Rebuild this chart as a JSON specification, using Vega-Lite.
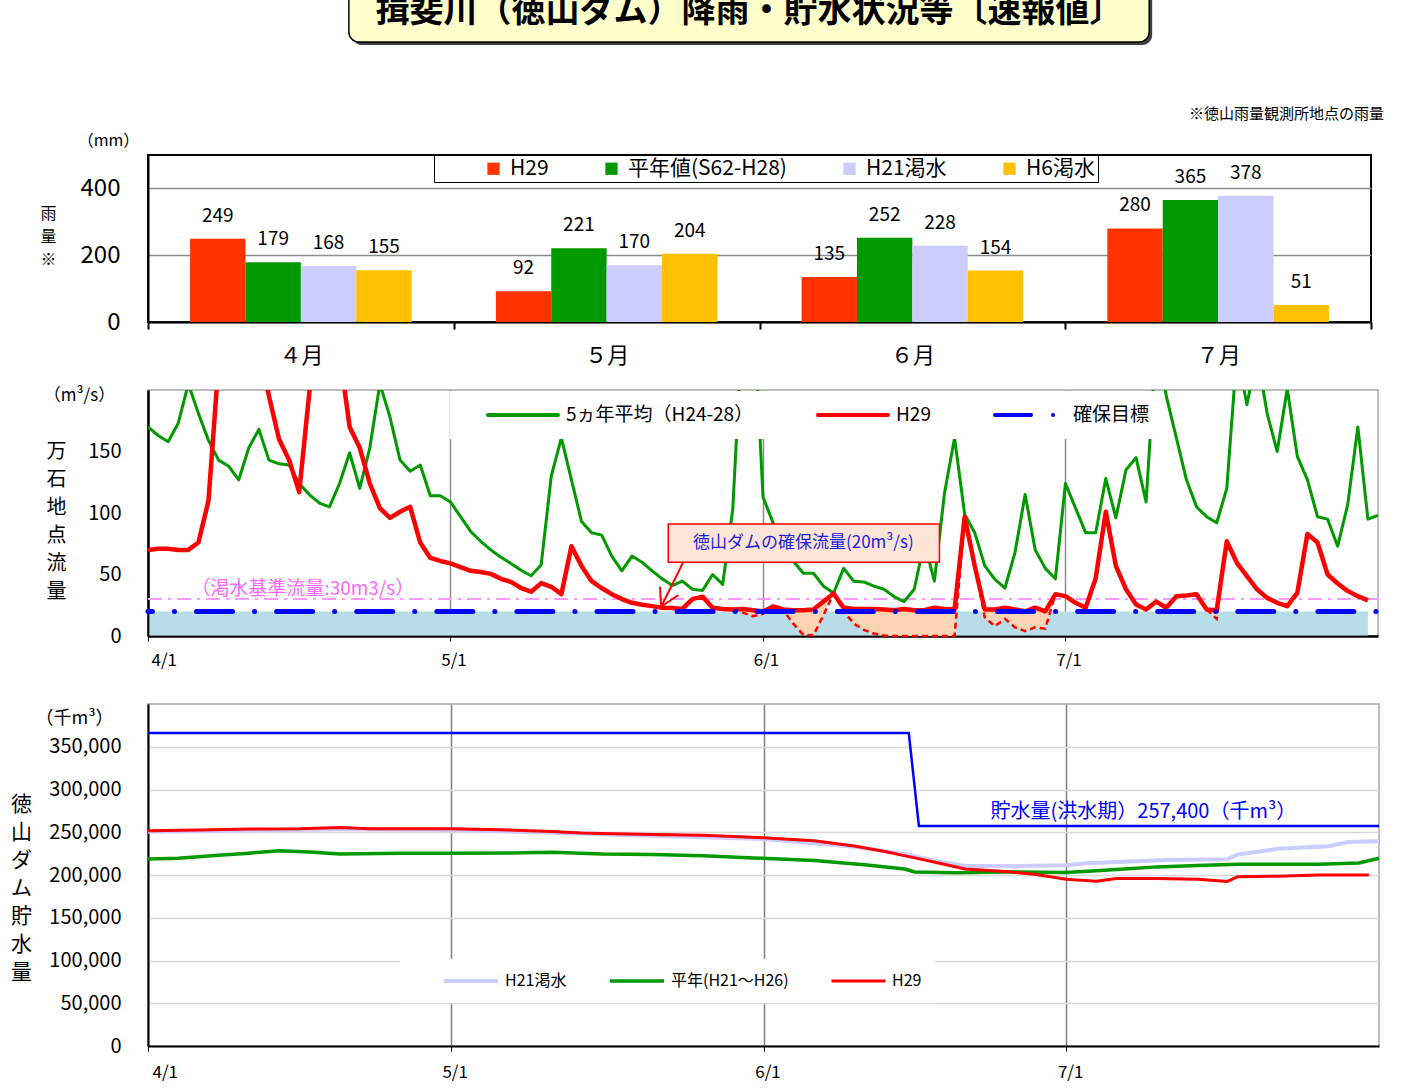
{
  "$schema": "https://vega.github.io/schema/vega-lite/v6.json",
  "padding": {"left": 9, "top": 0, "right": 0, "bottom": 0},
  "background": "white",
  "bounds": "flush",
  "spacing": 68,
  "resolve": {
    "scale": {"x": "independent", "y": "independent", "color": "independent", "strokeWidth": "independent"},
    "legend": {"color": "independent"}
  },
  "config": {
    "font": "Noto Sans CJK JP",
    "axis": {"labelColor": "black", "titleColor": "black", "labelFont": "Noto Sans CJK JP", "titleFont": "Noto Sans CJK JP", "titleFontWeight": "normal"},
    "legend": {"labelFont": "Noto Sans CJK JP", "labelColor": "black", "labelLimit": 400},
    "title": {"font": "Noto Sans CJK JP", "fontWeight": "normal", "color": "black"}
  },
  "datasets": {
    "rain": [
      {"month": "４月", "series": "H29", "v": 249}, {"month": "４月", "series": "平年値(S62-H28)", "v": 179}, {"month": "４月", "series": "H21渇水", "v": 168}, {"month": "４月", "series": "H6渇水", "v": 155},
      {"month": "５月", "series": "H29", "v": 92}, {"month": "５月", "series": "平年値(S62-H28)", "v": 221}, {"month": "５月", "series": "H21渇水", "v": 170}, {"month": "５月", "series": "H6渇水", "v": 204},
      {"month": "６月", "series": "H29", "v": 135}, {"month": "６月", "series": "平年値(S62-H28)", "v": 252}, {"month": "６月", "series": "H21渇水", "v": 228}, {"month": "６月", "series": "H6渇水", "v": 154},
      {"month": "７月", "series": "H29", "v": 280}, {"month": "７月", "series": "平年値(S62-H28)", "v": 365}, {"month": "７月", "series": "H21渇水", "v": 378}, {"month": "７月", "series": "H6渇水", "v": 51}
    ],
    "flow": [
      {"d":0,"g":170,"r":70},{"d":1,"g":163,"r":71},{"d":2,"g":158,"r":71},{"d":3,"g":173,"r":70},{"d":4,"g":205,"r":70},
      {"d":5,"g":181,"r":76},{"d":6,"g":159,"r":110},{"d":7,"g":143,"r":222},{"d":8,"g":138,"r":270},{"d":9,"g":127,"r":300},
      {"d":10,"g":153,"r":280},{"d":11,"g":168,"r":235},{"d":12,"g":143,"r":195},{"d":13,"g":140,"r":160},{"d":14,"g":139,"r":143},
      {"d":15,"g":124,"r":117},{"d":16,"g":115,"r":198},{"d":17,"g":108,"r":300},{"d":18,"g":105,"r":320},{"d":19,"g":124,"r":230},
      {"d":20,"g":149,"r":170},{"d":21,"g":120,"r":153},{"d":22,"g":153,"r":124},{"d":23,"g":205,"r":104},{"d":24,"g":178,"r":96},
      {"d":25,"g":143,"r":101},{"d":26,"g":134,"r":105},{"d":27,"g":139,"r":76},{"d":28,"g":114,"r":63.5},{"d":29,"g":114,"r":61},
      {"d":30,"g":109,"r":59},{"d":31,"g":97,"r":56},{"d":32,"g":85,"r":53},{"d":33,"g":77,"r":52},{"d":34,"g":70,"r":50.5},
      {"d":35,"g":64,"r":46.5},{"d":36,"g":59,"r":44},{"d":37,"g":53.5,"r":39},{"d":38,"g":49,"r":36},{"d":39,"g":58,"r":43},
      {"d":40,"g":130,"r":40},{"d":41,"g":161,"r":34},{"d":42,"g":127,"r":73},{"d":43,"g":93,"r":57},{"d":44,"g":84,"r":44.6},
      {"d":45,"g":82,"r":39},{"d":46,"g":65,"r":34},{"d":47,"g":53,"r":30},{"d":48,"g":65,"r":27},{"d":49,"g":60,"r":25.4},
      {"d":50,"g":53,"r":24.3},{"d":51,"g":46.5,"r":23},{"d":52,"g":41,"r":22.7},{"d":53,"g":44.6,"r":22},{"d":54,"g":38,"r":30},
      {"d":55,"g":37,"r":32},{"d":56,"g":50,"r":23,"n":23},{"d":57,"g":42,"r":22,"n":22},{"d":58,"g":103,"r":21.6,"n":21.6},{"d":59,"g":260,"r":22,"n":19},
      {"d":60,"g":280,"r":21,"n":16},{"d":61,"g":113,"r":20,"n":18},{"d":62,"g":92,"r":24,"n":23},{"d":63,"g":73,"r":21.6,"n":21},{"d":64,"g":61,"r":21,"n":10},
      {"d":65,"g":51,"r":21,"n":1},{"d":66,"g":51,"r":21.6,"n":0.5},{"d":67,"g":40.5,"r":28,"n":17},{"d":68,"g":35,"r":34.6,"n":34.6},{"d":69,"g":55,"r":23,"n":20},
      {"d":70,"g":44.6,"r":22,"n":10},{"d":71,"g":44,"r":22,"n":5},{"d":72,"g":40.5,"r":22,"n":2},{"d":73,"g":38,"r":21.5,"n":0.5},{"d":74,"g":32,"r":21,"n":0},
      {"d":75,"g":28,"r":22,"n":0},{"d":76,"g":38,"r":21,"n":0},{"d":77,"g":76,"r":21,"n":0},{"d":78,"g":44.6,"r":23,"n":0},{"d":79,"g":116,"r":22,"n":0},
      {"d":80,"g":161,"r":21.6,"n":0},{"d":81,"g":99,"r":97,"n":97},{"d":82,"g":84,"r":57,"n":57},{"d":83,"g":57,"r":21.6,"n":15},{"d":84,"g":46,"r":21.6,"n":8},
      {"d":85,"g":39,"r":23,"n":14},{"d":86,"g":68,"r":21.6,"n":7},{"d":87,"g":115,"r":20,"n":4},{"d":88,"g":70,"r":23,"n":7},{"d":89,"g":55,"r":20,"n":6},
      {"d":90,"g":46.5,"r":34,"n":34},{"d":91,"g":124,"r":32.4},{"d":92,"g":104,"r":27},{"d":93,"g":84,"r":23},{"d":94,"g":84,"r":47},
      {"d":95,"g":128,"r":101},{"d":96,"g":96,"r":57},{"d":97,"g":135,"r":38},{"d":98,"g":145,"r":25.7},{"d":99,"g":109,"r":21.6},
      {"d":100,"g":240,"r":28},{"d":101,"g":195,"r":23},{"d":102,"g":161,"r":32.4},{"d":103,"g":127,"r":33},{"d":104,"g":105,"r":34},
      {"d":105,"g":97,"r":21.6,"n":21.6},{"d":106,"g":92,"r":21,"n":14},{"d":107,"g":120,"r":77,"n":77},{"d":108,"g":230,"r":59.5},{"d":109,"g":188,"r":48.6},
      {"d":110,"g":230,"r":38},{"d":111,"g":181,"r":31},{"d":112,"g":150,"r":27},{"d":113,"g":201,"r":24.3},{"d":114,"g":146,"r":35},
      {"d":115,"g":127,"r":83},{"d":116,"g":97,"r":76},{"d":117,"g":95,"r":50},{"d":118,"g":73,"r":42.7},{"d":119,"g":107,"r":36.5},
      {"d":120,"g":170,"r":32.4},{"d":121,"g":95,"r":29},{"d":122,"g":98}
    ],
    "store": [
      {"s":"H21渇水","d":0,"v":250500},{"s":"H21渇水","d":10,"v":252000},{"s":"H21渇水","d":19,"v":253500},{"s":"H21渇水","d":30,"v":252500},
      {"s":"H21渇水","d":40,"v":249500},{"s":"H21渇水","d":50,"v":246000},{"s":"H21渇水","d":61,"v":242000},{"s":"H21渇水","d":70,"v":233000},
      {"s":"H21渇水","d":75,"v":224500},{"s":"H21渇水","d":78,"v":216500},{"s":"H21渇水","d":81,"v":210500},{"s":"H21渇水","d":86,"v":210500},
      {"s":"H21渇水","d":91,"v":211500},{"s":"H21渇水","d":93,"v":213800},{"s":"H21渇水","d":101,"v":217500},{"s":"H21渇水","d":107,"v":218500},
      {"s":"H21渇水","d":108,"v":224000},{"s":"H21渇水","d":112,"v":230600},{"s":"H21渇水","d":117,"v":233700},{"s":"H21渇水","d":119,"v":238500},
      {"s":"H21渇水","d":122,"v":239500},
      {"s":"平年(H21～H26)","d":0,"v":218600},{"s":"平年(H21～H26)","d":3,"v":219500},{"s":"平年(H21～H26)","d":7,"v":223000},{"s":"平年(H21～H26)","d":10,"v":225500},
      {"s":"平年(H21～H26)","d":13,"v":228500},{"s":"平年(H21～H26)","d":16,"v":227000},{"s":"平年(H21～H26)","d":19,"v":224500},{"s":"平年(H21～H26)","d":25,"v":225500},
      {"s":"平年(H21～H26)","d":30,"v":225500},{"s":"平年(H21～H26)","d":36,"v":225800},{"s":"平年(H21～H26)","d":40,"v":226500},{"s":"平年(H21～H26)","d":45,"v":224500},
      {"s":"平年(H21～H26)","d":50,"v":224000},{"s":"平年(H21～H26)","d":55,"v":222500},{"s":"平年(H21～H26)","d":60,"v":220000},{"s":"平年(H21～H26)","d":66,"v":217000},
      {"s":"平年(H21～H26)","d":71,"v":212000},{"s":"平年(H21～H26)","d":75,"v":207000},{"s":"平年(H21～H26)","d":76,"v":203500},{"s":"平年(H21～H26)","d":80,"v":202500},
      {"s":"平年(H21～H26)","d":85,"v":203500},{"s":"平年(H21～H26)","d":91,"v":203000},{"s":"平年(H21～H26)","d":94,"v":205000},{"s":"平年(H21～H26)","d":96,"v":206500},
      {"s":"平年(H21～H26)","d":100,"v":209500},{"s":"平年(H21～H26)","d":104,"v":211000},{"s":"平年(H21～H26)","d":108,"v":212500},{"s":"平年(H21～H26)","d":113,"v":212500},
      {"s":"平年(H21～H26)","d":116,"v":212700},{"s":"平年(H21～H26)","d":120,"v":214000},{"s":"平年(H21～H26)","d":122,"v":219500},
      {"s":"H29","d":0,"v":251700},{"s":"H29","d":5,"v":252500},{"s":"H29","d":10,"v":253800},{"s":"H29","d":15,"v":254000},
      {"s":"H29","d":19,"v":255500},{"s":"H29","d":22,"v":254200},{"s":"H29","d":27,"v":254000},{"s":"H29","d":30,"v":254000},
      {"s":"H29","d":35,"v":253000},{"s":"H29","d":40,"v":251000},{"s":"H29","d":43,"v":249000},{"s":"H29","d":45,"v":248500},
      {"s":"H29","d":50,"v":247500},{"s":"H29","d":55,"v":246500},{"s":"H29","d":61,"v":243500},{"s":"H29","d":66,"v":240000},
      {"s":"H29","d":70,"v":234000},{"s":"H29","d":73,"v":227500},{"s":"H29","d":76,"v":220000},{"s":"H29","d":78,"v":215000},
      {"s":"H29","d":81,"v":207000},{"s":"H29","d":85,"v":204000},{"s":"H29","d":88,"v":200500},{"s":"H29","d":91,"v":195000},
      {"s":"H29","d":94,"v":192800},{"s":"H29","d":96,"v":196000},{"s":"H29","d":100,"v":196000},{"s":"H29","d":104,"v":195000},
      {"s":"H29","d":107,"v":192500},{"s":"H29","d":108,"v":198000},{"s":"H29","d":112,"v":198500},{"s":"H29","d":116,"v":200000},
      {"s":"H29","d":121,"v":200000}
    ],
    "flood": [
      {"d":0,"v":366000},{"d":75.4,"v":366000},{"d":76.4,"v":257400},{"d":122,"v":257400}
    ],
    "one": [{"k": 1}]
  },
  "vconcat": [
    {
      "width": 1230,
      "height": 87,
      "view": {"stroke": null},
      "data": {"name": "one"},
      "layer": [
        {
          "mark": {"type": "rect", "fill": "#404040", "cornerRadius": 10, "clip": true},
          "encoding": {
            "x": {"datum": 0.1657, "type": "quantitative", "scale": {"domain": [0, 1], "nice": false, "zero": false}, "axis": null},
            "x2": {"datum": 0.8164},
            "y": {"datum": 0.483, "type": "quantitative", "scale": {"domain": [0, 1], "nice": false, "zero": false}, "axis": null},
            "y2": {"datum": 1.3}
          }
        },
        {
          "mark": {"type": "rect", "fill": "#FFFFCC", "stroke": "black", "strokeWidth": 1.5, "cornerRadius": 10, "clip": true},
          "encoding": {
            "x": {"datum": 0.1633, "type": "quantitative"},
            "x2": {"datum": 0.814},
            "y": {"datum": 0.517, "type": "quantitative"},
            "y2": {"datum": 1.3}
          }
        },
        {
          "mark": {"type": "text", "fontSize": 34, "fontWeight": "bold", "align": "center", "baseline": "middle", "clip": true, "color": "black"},
          "encoding": {
            "x": {"datum": 0.489, "type": "quantitative"},
            "y": {"datum": 0.86, "type": "quantitative"},
            "text": {"value": "揖斐川（徳山ダム）降雨・貯水状況等〔速報値〕"}
          }
        }
      ]
    },
    {
      "width": 1223,
      "height": 167,
      "view": {"stroke": "black", "strokeWidth": 2},
      "title": {"text": "※徳山雨量観測所地点の雨量", "anchor": "end", "frame": "group", "fontSize": 15, "offset": 3, "baseline": "middle", "dx": 13},
      "data": {"name": "rain"},
      "encoding": {
        "x": {
          "field": "month", "type": "nominal", "sort": ["４月", "５月", "６月", "７月"],
          "scale": {"paddingInner": 0, "paddingOuter": 0},
          "axis": {
            "title": "（mm）", "titleX": -40, "titleY": -182, "titleAngle": 0, "titleAlign": "center", "titleBaseline": "middle", "titleFontSize": 16,
            "labelAngle": 0, "labelFontSize": 22, "labelPadding": 16, "tickBand": "extent", "tickSize": 7, "tickColor": "black", "tickWidth": 2,
            "domainColor": "black", "domainWidth": 2
          }
        },
        "xOffset": {
          "field": "series", "type": "nominal", "sort": ["H29", "平年値(S62-H28)", "H21渇水", "H6渇水"],
          "scale": {"paddingInner": 0, "paddingOuter": 0.76}
        },
        "y": {
          "field": "v", "type": "quantitative", "scale": {"domain": [0, 500], "nice": false},
          "axis": {
            "values": [0, 200, 400], "title": ["雨", "量", "※"], "titleAngle": 0, "titleX": -100, "titleY": 58, "titleAlign": "center", "titleBaseline": "middle",
            "titleFontSize": 16, "titleLineHeight": 23, "labelFontSize": 24, "labelPadding": 28, "ticks": false,
            "domainColor": "black", "domainWidth": 2, "gridColor": "#8C8C8C", "gridWidth": 1.5
          }
        }
      },
      "layer": [
        {
          "mark": {"type": "bar"},
          "encoding": {
            "color": {
              "field": "series", "type": "nominal",
              "scale": {"domain": ["H29", "平年値(S62-H28)", "H21渇水", "H6渇水"], "range": ["#FF3300", "#009900", "#CCCCFF", "#FFC000"]},
              "legend": {
                "orient": "none", "legendX": 286, "legendY": 0, "direction": "horizontal", "title": null,
                "symbolType": "square", "symbolSize": 150, "symbolStrokeWidth": 0, "labelFontSize": 21,
                "strokeColor": "black", "fillColor": "white", "padding": 3, "symbolOffset": 46, "columnPadding": 6, "labelOffset": 6
              }
            }
          }
        },
        {
          "mark": {"type": "text", "baseline": "alphabetic", "dy": -17, "fontSize": 19, "color": "black"},
          "encoding": {"text": {"field": "v", "type": "quantitative"}}
        }
      ]
    },
    {
      "width": 1230,
      "height": 246,
      "view": {"stroke": "#A6A6A6", "strokeWidth": 1.5},
      "layer": [
        {
          "data": {"name": "one"},
          "mark": {"type": "rect", "fill": "#B7DEE8"},
          "encoding": {
            "x": {
              "datum": 0.15, "type": "quantitative", "scale": {"domain": [0, 122], "nice": false, "zero": false},
              "axis": {
                "values": [0, 30, 61, 91],
                "labelExpr": "datum.value == 0 ? '4/1' : datum.value == 30 ? '5/1' : datum.value == 61 ? '6/1' : '7/1'",
                "labelFontSize": 17, "labelPadding": 11, "labelOffset": 3, "tickSize": 5, "tickColor": "black",
                "grid": true, "gridColor": "#8C8C8C", "gridWidth": 1.5, "domainColor": "black", "domainWidth": 2.5,
                "title": "（m³/s）", "titleX": -69, "titleY": -241, "titleAngle": 0, "titleAlign": "center", "titleBaseline": "middle", "titleFontSize": 17
              }
            },
            "x2": {"datum": 121},
            "y": {
              "datum": 0.4, "type": "quantitative", "scale": {"domain": [0, 200], "nice": false},
              "axis": {
                "values": [0, 50, 100, 150], "labelFontSize": 20, "labelPadding": 27, "ticks": false,
                "gridColor": "#A6A6A6", "gridWidth": 1.5, "domainColor": "black", "domainWidth": 2.5,
                "title": ["万", "石", "地", "点", "流", "量"], "titleAngle": 0, "titleX": -92, "titleY": 61, "titleAlign": "center", "titleBaseline": "middle",
                "titleFontSize": 20, "titleLineHeight": 28
              }
            },
            "y2": {"datum": 20}
          }
        },
        {
          "data": {"name": "flow"},
          "mark": {"type": "area", "color": "#FBD4B4"},
          "encoding": {"x": {"field": "d", "type": "quantitative"}, "y": {"field": "n", "type": "quantitative"}, "y2": {"field": "r"}}
        },
        {
          "data": {"name": "one"},
          "mark": {"type": "rule", "color": "#FF99FF", "strokeWidth": 2, "strokeDash": [14, 6, 3, 6]},
          "encoding": {"x": {"datum": 0, "type": "quantitative"}, "x2": {"datum": 122}, "y": {"datum": 30, "type": "quantitative"}}
        },
        {
          "data": {"name": "flow"},
          "mark": {"type": "line", "strokeWidth": 3, "clip": true, "strokeJoin": "round"},
          "encoding": {
            "x": {"field": "d", "type": "quantitative"},
            "y": {"field": "g", "type": "quantitative"},
            "color": {
              "datum": "5ヵ年平均（H24-28）",
              "scale": {"domain": ["5ヵ年平均（H24-28）", "H29", "確保目標"], "range": ["#009900", "#FF0000", "#0000FF"]},
              "legend": {
                "orient": "none", "legendX": 302, "legendY": 1, "direction": "horizontal", "title": null,
                "symbolType": "stroke", "symbolSize": 4900, "symbolStrokeWidth": 4, "clipHeight": 24,
                "labelFontSize": 19, "labelOffset": 6, "columnPadding": 38, "symbolOffset": 24, "padding": 12, "fillColor": "white",
                "encode": {"symbols": {"update": {"strokeDash": {"signal": "datum.value === '確保目標' ? [36, 22, 0.1, 22] : [1, 0]"}, "strokeCap": {"value": "round"}}}}
              }
            }
          }
        },
        {
          "data": {"name": "flow"},
          "mark": {"type": "line", "color": "#FF0000", "strokeWidth": 2.5, "strokeDash": [6, 4]},
          "encoding": {"x": {"field": "d", "type": "quantitative"}, "y": {"field": "n", "type": "quantitative"}}
        },
        {
          "data": {"name": "flow"},
          "mark": {"type": "line", "strokeWidth": 4.5, "clip": true, "strokeJoin": "round"},
          "encoding": {"x": {"field": "d", "type": "quantitative"}, "y": {"field": "r", "type": "quantitative"}, "color": {"datum": "H29"}}
        },
        {
          "data": {"name": "one"},
          "mark": {"type": "rule", "strokeWidth": 5, "strokeCap": "round", "strokeDash": [36, 22, 0.1, 22], "strokeDashOffset": 31.6},
          "encoding": {"x": {"datum": 0, "type": "quantitative"}, "x2": {"datum": 122}, "y": {"datum": 20, "type": "quantitative"}, "color": {"datum": "確保目標"}}
        },
        {
          "data": {"name": "one"},
          "mark": {"type": "rect", "fill": "#FCE4D6", "stroke": "#FF0000", "strokeWidth": 1.5},
          "encoding": {"x": {"datum": 51.6, "type": "quantitative"}, "x2": {"datum": 78.5}, "y": {"datum": 60, "type": "quantitative"}, "y2": {"datum": 91}}
        },
        {
          "data": {"name": "one"},
          "mark": {"type": "text", "fontSize": 17, "color": "#2222DD", "align": "center", "baseline": "middle"},
          "encoding": {"x": {"datum": 65, "type": "quantitative"}, "y": {"datum": 75.5, "type": "quantitative"}, "text": {"value": "徳山ダムの確保流量(20m³/s)"}}
        },
        {
          "data": {"values": [{"x1": 53.1, "y1": 60.3, "x2": 50.9, "y2": 23.8}, {"x1": 50.78, "y1": 40, "x2": 50.9, "y2": 23.8}, {"x1": 52.6, "y1": 33.3, "x2": 50.9, "y2": 23.8}]},
          "mark": {"type": "rule", "color": "#FF0000", "strokeWidth": 2},
          "encoding": {"x": {"field": "x1", "type": "quantitative"}, "x2": {"field": "x2"}, "y": {"field": "y1", "type": "quantitative"}, "y2": {"field": "y2"}}
        },
        {
          "data": {"name": "one"},
          "mark": {"type": "text", "fontSize": 19, "color": "#FF66FF", "align": "left", "baseline": "alphabetic", "dy": -4},
          "encoding": {"x": {"datum": 4.3, "type": "quantitative"}, "y": {"datum": 30, "type": "quantitative"}, "text": {"value": "（渇水基準流量:30m3/s）"}}
        }
      ]
    },
    {
      "width": 1231,
      "height": 342,
      "view": {"stroke": "#A6A6A6", "strokeWidth": 1.5},
      "layer": [
        {
          "data": {"name": "flood"},
          "mark": {"type": "line", "color": "#0000FF", "strokeWidth": 2.5},
          "encoding": {
            "x": {
              "field": "d", "type": "quantitative", "scale": {"domain": [0, 122], "nice": false, "zero": false},
              "axis": {
                "values": [0, 30, 61, 91],
                "labelExpr": "datum.value == 0 ? '4/1' : datum.value == 30 ? '5/1' : datum.value == 61 ? '6/1' : '7/1'",
                "labelFontSize": 17, "labelPadding": 13, "labelOffset": 4, "tickSize": 5, "tickColor": "black",
                "grid": true, "gridColor": "#7F7F7F", "gridWidth": 1.5, "domainColor": "black", "domainWidth": 2,
                "title": "（千m³）", "titleX": -74, "titleY": -328, "titleAngle": 0, "titleAlign": "center", "titleBaseline": "middle", "titleFontSize": 18
              }
            },
            "y": {
              "field": "v", "type": "quantitative", "scale": {"domain": [0, 400000], "nice": false},
              "axis": {
                "values": [0, 50000, 100000, 150000, 200000, 250000, 300000, 350000], "format": ",.0f",
                "labelFontSize": 20, "labelPadding": 27, "ticks": false,
                "gridColor": "#D9D9D9", "gridWidth": 1.5, "domainColor": "black", "domainWidth": 2,
                "title": ["徳", "山", "ダ", "ム", "貯", "水", "量"], "titleAngle": 0, "titleX": -127, "titleY": 100, "titleAlign": "center", "titleBaseline": "middle",
                "titleFontSize": 21, "titleLineHeight": 28
              }
            }
          }
        },
        {
          "data": {"name": "store"},
          "mark": {"type": "line", "strokeJoin": "round"},
          "encoding": {
            "x": {"field": "d", "type": "quantitative"},
            "y": {"field": "v", "type": "quantitative"},
            "color": {
              "field": "s", "type": "nominal",
              "scale": {"domain": ["H21渇水", "平年(H21～H26)", "H29"], "range": ["#CCCCFF", "#009900", "#FF0000"]},
              "legend": {
                "orient": "none", "legendX": 252, "legendY": 255, "direction": "horizontal", "title": null,
                "symbolType": "stroke", "symbolSize": 2916, "symbolStrokeWidth": 4, "clipHeight": 18,
                "labelFontSize": 16, "labelOffset": 5, "columnPadding": 12, "symbolOffset": 29, "padding": 13, "fillColor": "white"
              }
            },
            "strokeWidth": {
              "field": "s", "type": "nominal",
              "scale": {"domain": ["H21渇水", "平年(H21～H26)", "H29"], "range": [4, 3, 4.5]},
              "legend": null
            }
          }
        },
        {
          "data": {"name": "one"},
          "mark": {"type": "text", "fontSize": 20, "color": "#0000FF", "align": "left", "baseline": "bottom", "dy": -4},
          "encoding": {"x": {"datum": 83.5, "type": "quantitative"}, "y": {"datum": 257400, "type": "quantitative"}, "text": {"value": "貯水量(洪水期）257,400（千m³）"}}
        }
      ]
    }
  ]
}
